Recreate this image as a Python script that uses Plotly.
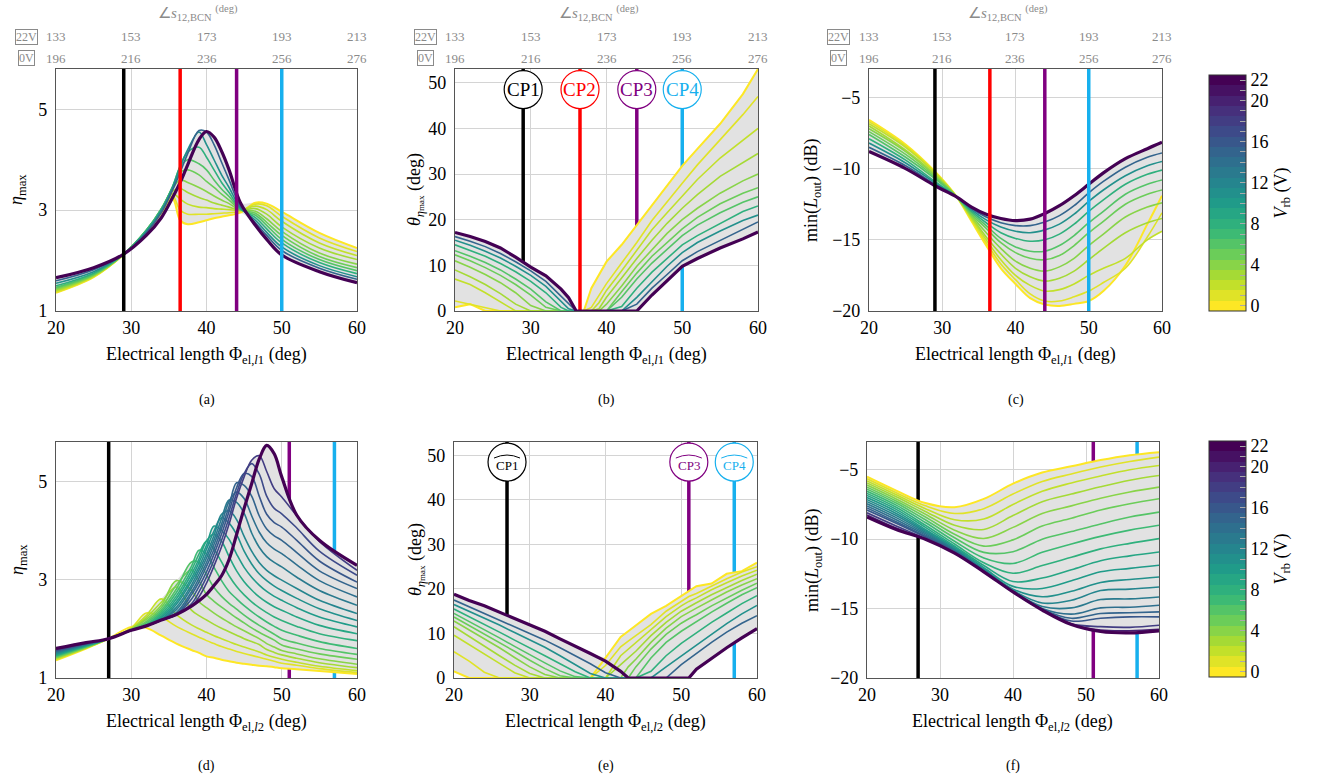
import numpy as np
import plotly.graph_objects as go
from plotly.colors import sample_colorscale

W, H = 1340, 782
FONT = "Liberation Serif, Times New Roman, serif"

# ---------------- data ----------------
V_STD = [0, 1, 2, 3, 4, 5, 6, 8, 11, 15, 22]
V_D = [0, 1, 2, 3, 4, 5, 6, 7, 8, 9, 10, 11, 12, 13, 14, 15, 16, 17, 18, 22]
V_F = [0, 1, 2, 3, 4, 5, 6, 7, 8, 9, 10, 11, 12, 13, 14, 15, 16, 18, 20, 22]

# (a) eta_max vs Phi_el,l1
x_a = [20, 25, 29, 32, 34, 35.5, 36.5, 37.5, 39, 40, 41, 42, 43, 44.5, 46.5, 48, 50, 55, 60]
eta_a = [
    [1.36, 1.67, 2.12, 2.56, 2.94, 3.22, 2.80, 2.72, 2.76, 2.80, 2.84, 2.87, 2.90, 2.95, 3.15, 3.13, 2.97, 2.55, 2.25],
    [1.37, 1.68, 2.12, 2.57, 2.96, 3.28, 3.00, 2.92, 2.92, 2.92, 2.93, 2.94, 2.95, 2.98, 3.12, 3.09, 2.88, 2.45, 2.18],
    [1.39, 1.69, 2.12, 2.58, 2.98, 3.33, 3.22, 3.12, 3.06, 3.05, 3.03, 3.02, 3.01, 3.00, 3.08, 3.01, 2.78, 2.35, 2.10],
    [1.41, 1.70, 2.13, 2.59, 3.00, 3.38, 3.43, 3.35, 3.25, 3.20, 3.14, 3.10, 3.06, 3.00, 3.03, 2.92, 2.67, 2.25, 2.02],
    [1.43, 1.71, 2.13, 2.60, 3.02, 3.43, 3.60, 3.55, 3.45, 3.37, 3.28, 3.20, 3.13, 3.00, 2.98, 2.83, 2.58, 2.15, 1.93],
    [1.45, 1.72, 2.13, 2.60, 3.03, 3.46, 3.75, 3.80, 3.70, 3.57, 3.45, 3.32, 3.20, 3.01, 2.94, 2.76, 2.50, 2.08, 1.86],
    [1.47, 1.73, 2.13, 2.60, 3.03, 3.47, 3.85, 4.00, 3.92, 3.80, 3.60, 3.42, 3.27, 3.02, 2.90, 2.70, 2.42, 2.02, 1.80],
    [1.50, 1.75, 2.13, 2.60, 3.02, 3.47, 3.88, 4.15, 4.25, 4.05, 3.80, 3.55, 3.35, 3.03, 2.85, 2.63, 2.35, 1.96, 1.74],
    [1.55, 1.78, 2.13, 2.57, 3.00, 3.45, 3.85, 4.20, 4.55, 4.30, 4.00, 3.70, 3.45, 3.05, 2.80, 2.56, 2.27, 1.90, 1.68],
    [1.60, 1.82, 2.13, 2.55, 2.95, 3.40, 3.75, 4.12, 4.58, 4.55, 4.30, 3.95, 3.60, 3.08, 2.75, 2.50, 2.20, 1.85, 1.63],
    [1.66, 1.86, 2.13, 2.50, 2.85, 3.25, 3.55, 3.90, 4.40, 4.56, 4.45, 4.17, 3.80, 3.15, 2.70, 2.42, 2.11, 1.78, 1.56],
]

# (b) theta vs Phi_el,l1
x_b = [20, 22, 24, 26, 28, 30, 32, 34, 35, 36, 37, 38, 39, 40, 42, 44, 46, 48, 50, 52, 55, 58, 60]
theta_b = [
    [0.8, 1.5, 0, 0, 0, 0, 0, 0, 0, 0, 0, 5.0, 8.0, 10.8, 14.5, 18.8, 23.0, 27.5, 31.8, 35.5, 41.0, 47.5, 53.0],
    [2.2, 1.5, 0.8, 0, 0, 0, 0, 0, 0, 0, 0, 0.8, 3.5, 6.0, 10.5, 15.0, 19.8, 24.0, 28.0, 32.0, 37.5, 43.0, 47.0],
    [7.0, 5.8, 4.0, 2.0, 0, 0, 0, 0, 0, 0, 0, 0, 1.8, 4.5, 8.8, 13.2, 17.8, 21.5, 25.2, 28.8, 33.5, 37.5, 40.0],
    [9.0, 7.5, 5.8, 3.8, 1.5, 0, 0, 0, 0, 0, 0, 0, 0.5, 3.0, 7.2, 11.5, 15.5, 19.2, 22.5, 25.5, 29.5, 32.5, 34.5],
    [11.0, 9.6, 8.0, 6.2, 4.0, 1.2, 0, 0, 0, 0, 0, 0, 0, 1.5, 5.5, 9.8, 13.5, 17.0, 20.0, 22.5, 25.8, 28.5, 30.0],
    [12.3, 11.0, 9.5, 7.8, 5.8, 3.5, 0.8, 0, 0, 0, 0, 0, 0, 0, 4.2, 8.3, 12.0, 15.0, 18.0, 20.5, 23.5, 25.8, 27.0],
    [13.2, 12.0, 10.6, 9.0, 7.0, 4.8, 2.0, 0, 0, 0, 0, 0, 0, 0, 3.0, 7.0, 10.5, 13.5, 16.5, 18.8, 21.5, 23.8, 25.0],
    [14.5, 13.3, 12.0, 10.4, 8.6, 6.5, 4.0, 0.8, 0, 0, 0, 0, 0, 0, 1.0, 5.0, 8.5, 11.5, 14.5, 16.5, 19.2, 21.8, 23.0],
    [15.5, 14.4, 13.1, 11.6, 9.8, 7.8, 5.4, 2.2, 0.5, 0, 0, 0, 0, 0, 0, 3.0, 6.5, 9.8, 12.8, 15.0, 17.5, 19.8, 21.0],
    [16.3, 15.3, 14.1, 12.6, 10.8, 8.8, 6.5, 3.3, 1.5, 0, 0, 0, 0, 0, 0, 1.5, 5.0, 8.0, 11.0, 13.0, 15.5, 18.0, 19.5],
    [17.2, 16.3, 15.2, 13.8, 11.8, 9.6, 7.7, 4.8, 2.9, 0, 0, 0, 0, 0, 0, 0, 3.5, 6.6, 9.8, 11.5, 13.8, 15.8, 17.3],
]

# (c) min(L_out) vs Phi_el,l1
x_c = [20, 25, 29, 32, 34, 36, 38, 40, 42, 44, 46, 48, 50, 52, 55, 58, 60]
lout_c = [
    [-6.57, -8.3, -10.2, -12.0, -13.7, -15.4, -17.0, -18.1, -19.1, -19.55, -19.65, -19.5, -19.3, -18.6, -16.8, -13.9, -11.9],
    [-6.7, -8.4, -10.25, -12.0, -13.6, -15.2, -16.7, -17.8, -18.8, -19.3, -19.3, -19.0, -18.6, -18.0, -17.0, -14.8, -13.1],
    [-6.85, -8.5, -10.3, -12.0, -13.5, -15.0, -16.4, -17.5, -18.2, -18.6, -18.5, -18.1, -17.5, -17.0, -16.3, -15.0, -14.4],
    [-7.0, -8.7, -10.4, -12.0, -13.4, -14.8, -16.0, -17.0, -17.6, -17.9, -17.7, -17.2, -16.4, -15.6, -14.5, -13.8, -13.5],
    [-7.2, -8.8, -10.5, -12.0, -13.3, -14.5, -15.6, -16.5, -17.0, -17.2, -16.9, -16.3, -15.4, -14.6, -13.4, -12.7, -12.4],
    [-7.4, -9.0, -10.6, -12.0, -13.2, -14.2, -15.2, -15.9, -16.3, -16.4, -16.1, -15.4, -14.5, -13.7, -12.5, -11.8, -11.5],
    [-7.6, -9.2, -10.7, -12.0, -13.1, -14.0, -14.9, -15.5, -15.8, -15.8, -15.4, -14.7, -13.8, -13.0, -11.8, -11.1, -10.8],
    [-7.9, -9.4, -10.9, -12.0, -13.0, -13.8, -14.5, -14.9, -15.1, -15.0, -14.6, -13.9, -13.0, -12.2, -11.1, -10.4, -10.1],
    [-8.2, -9.6, -11.0, -12.0, -12.9, -13.6, -14.1, -14.4, -14.5, -14.3, -13.9, -13.2, -12.3, -11.5, -10.5, -9.8, -9.5],
    [-8.5, -9.8, -11.1, -12.0, -12.8, -13.4, -13.8, -14.0, -14.0, -13.75, -13.3, -12.6, -11.7, -10.9, -9.9, -9.2, -8.9],
    [-8.8, -10.0, -11.2, -12.0, -12.7, -13.2, -13.5, -13.65, -13.55, -13.15, -12.6, -11.9, -11.1, -10.3, -9.3, -8.6, -8.15],
]

# (d) eta_max vs Phi_el,l2
x_d = [20, 24, 27, 30, 32, 34, 36, 38, 39, 40, 41, 42, 43, 44, 45, 46, 47, 48, 49, 50, 52, 55, 60]
eta_d = [
    [1.36, 1.60, 1.80, 2.04, 2.02, 1.86, 1.70, 1.57, 1.51, 1.44, 1.41, 1.37, 1.34, 1.31, 1.29, 1.27, 1.25, 1.24, 1.22, 1.20, 1.18, 1.14, 1.08],
    [1.37, 1.61, 1.80, 2.02, 2.32, 2.24, 2.05, 1.90, 1.83, 1.76, 1.70, 1.64, 1.59, 1.54, 1.50, 1.46, 1.42, 1.38, 1.34, 1.30, 1.26, 1.19, 1.11],
    [1.385, 1.61, 1.80, 2.01, 2.27, 2.61, 2.29, 2.08, 2.00, 1.93, 1.86, 1.80, 1.74, 1.68, 1.63, 1.58, 1.53, 1.47, 1.42, 1.38, 1.32, 1.24, 1.15],
    [1.40, 1.62, 1.80, 2.00, 2.23, 2.54, 2.85, 2.38, 2.27, 2.18, 2.09, 2.01, 1.94, 1.87, 1.80, 1.74, 1.68, 1.58, 1.52, 1.47, 1.40, 1.31, 1.21],
    [1.41, 1.62, 1.80, 1.99, 2.19, 2.48, 2.98, 2.78, 2.55, 2.43, 2.32, 2.22, 2.13, 2.04, 1.96, 1.88, 1.80, 1.70, 1.63, 1.56, 1.49, 1.39, 1.28],
    [1.42, 1.63, 1.80, 1.98, 2.15, 2.43, 2.89, 3.20, 2.98, 2.70, 2.56, 2.44, 2.33, 2.22, 2.12, 2.02, 1.93, 1.85, 1.77, 1.67, 1.59, 1.49, 1.38],
    [1.435, 1.64, 1.80, 1.97, 2.12, 2.38, 2.81, 3.36, 3.35, 3.10, 2.84, 2.66, 2.52, 2.40, 2.28, 2.17, 2.07, 1.98, 1.89, 1.80, 1.71, 1.60, 1.48],
    [1.45, 1.64, 1.80, 1.97, 2.09, 2.34, 2.74, 3.27, 3.60, 3.52, 3.25, 2.98, 2.76, 2.61, 2.47, 2.35, 2.24, 2.14, 2.05, 1.97, 1.87, 1.74, 1.60],
    [1.46, 1.65, 1.80, 1.97, 2.07, 2.30, 2.67, 3.19, 3.52, 3.78, 3.62, 3.36, 3.08, 2.86, 2.69, 2.55, 2.43, 2.33, 2.24, 2.17, 2.05, 1.90, 1.76],
    [1.47, 1.66, 1.80, 1.97, 2.06, 2.26, 2.61, 3.11, 3.42, 3.79, 3.93, 3.78, 3.47, 3.18, 2.96, 2.79, 2.65, 2.54, 2.45, 2.38, 2.24, 2.07, 1.90],
    [1.485, 1.66, 1.80, 1.97, 2.06, 2.23, 2.55, 3.03, 3.35, 3.70, 4.09, 4.00, 3.82, 3.52, 3.25, 3.05, 2.89, 2.76, 2.66, 2.58, 2.43, 2.24, 2.04],
    [1.50, 1.67, 1.80, 1.97, 2.06, 2.20, 2.50, 2.97, 3.26, 3.62, 3.99, 4.26, 4.15, 3.92, 3.58, 3.32, 3.12, 2.98, 2.87, 2.78, 2.62, 2.41, 2.17],
    [1.51, 1.68, 1.80, 1.97, 2.06, 2.18, 2.44, 2.89, 3.19, 3.52, 3.90, 4.33, 4.40, 4.22, 3.88, 3.58, 3.35, 3.19, 3.08, 2.99, 2.82, 2.58, 2.31],
    [1.525, 1.68, 1.80, 1.97, 2.06, 2.18, 2.39, 2.83, 3.11, 3.44, 3.81, 4.24, 4.62, 4.57, 4.35, 3.95, 3.66, 3.47, 3.35, 3.26, 3.05, 2.78, 2.48],
    [1.54, 1.69, 1.80, 1.97, 2.06, 2.18, 2.33, 2.75, 3.03, 3.35, 3.72, 4.13, 4.59, 4.78, 4.65, 4.30, 3.97, 3.75, 3.62, 3.53, 3.30, 2.98, 2.65],
    [1.55, 1.69, 1.80, 1.97, 2.06, 2.18, 2.29, 2.69, 2.95, 3.27, 3.62, 4.04, 4.49, 4.97, 4.92, 4.70, 4.30, 4.03, 3.89, 3.80, 3.55, 3.18, 2.82],
    [1.56, 1.70, 1.80, 1.97, 2.06, 2.18, 2.29, 2.60, 2.86, 3.16, 3.52, 3.93, 4.39, 4.87, 5.16, 5.10, 4.70, 4.33, 4.16, 4.07, 3.80, 3.38, 2.95],
    [1.57, 1.70, 1.80, 1.97, 2.06, 2.18, 2.29, 2.51, 2.75, 3.05, 3.40, 3.80, 4.26, 4.76, 5.16, 5.36, 5.15, 4.70, 4.45, 4.34, 4.05, 3.58, 3.09],
    [1.585, 1.71, 1.80, 1.97, 2.06, 2.18, 2.29, 2.46, 2.65, 2.93, 3.28, 3.67, 4.13, 4.66, 5.09, 5.43, 5.52, 5.20, 4.85, 4.68, 4.30, 3.78, 3.19],
    [1.60, 1.72, 1.80, 1.97, 2.06, 2.18, 2.29, 2.46, 2.57, 2.70, 2.88, 3.08, 3.41, 3.92, 4.45, 4.95, 5.45, 5.73, 5.56, 5.09, 4.31, 3.80, 3.29],
]

# (e) theta vs Phi_el,l2
x_e = [20, 22, 24, 26, 28, 30, 32, 34, 36, 38, 40, 42, 43, 44, 46, 48, 50, 51, 52, 54, 56, 58, 60]
theta_e = [
    [1.5, 0, 0, 0, 0, 0, 0, 0, 0, 0, 4.5, 9.2, 10.5, 11.8, 14.4, 16.2, 18.5, 19.5, 20.6, 21.2, 23.4, 24.0, 25.9],
    [5.9, 3.8, 1.3, 0, 0, 0, 0, 0, 0, 0, 2.8, 7.0, 8.3, 9.5, 12.0, 15.0, 17.3, 18.3, 19.0, 20.7, 22.3, 23.8, 25.0],
    [9.6, 7.5, 5.5, 3.3, 1.2, 0, 0, 0, 0, 0, 0, 5.0, 6.5, 7.8, 10.8, 13.8, 16.2, 17.2, 18.0, 19.8, 21.4, 22.9, 24.2],
    [11.5, 9.3, 7.2, 5.0, 2.9, 1.0, 0, 0, 0, 0, 0, 3.0, 4.5, 6.0, 9.5, 12.5, 15.0, 16.0, 16.9, 18.7, 20.3, 21.9, 23.3],
    [12.8, 10.8, 8.8, 6.8, 4.6, 2.5, 0.8, 0, 0, 0, 0, 0, 2.5, 4.2, 8.0, 11.2, 13.8, 14.8, 15.7, 17.5, 19.3, 20.9, 22.3],
    [13.7, 11.8, 9.9, 8.0, 6.0, 4.0, 2.1, 0.5, 0, 0, 0, 0, 0, 2.5, 6.5, 9.8, 12.3, 13.3, 14.2, 16.2, 18.0, 19.7, 21.3],
    [14.5, 12.7, 10.9, 9.0, 7.1, 5.2, 3.4, 1.6, 0.3, 0, 0, 0, 0, 0, 4.5, 8.0, 10.5, 11.6, 12.6, 14.8, 16.8, 18.7, 20.3],
    [15.5, 13.8, 12.1, 10.3, 8.5, 6.8, 5.0, 3.2, 1.4, 0, 0, 0, 0, 0, 1.5, 5.0, 7.8, 9.0, 10.0, 12.5, 14.6, 16.7, 18.5],
    [16.5, 15.0, 13.5, 11.9, 10.2, 8.6, 6.9, 5.0, 3.0, 1.0, 0, 0, 0, 0, 0, 2.5, 5.0, 6.2, 7.3, 9.8, 12.2, 14.4, 16.3],
    [17.5, 16.0, 14.6, 13.1, 11.5, 10.0, 8.5, 6.8, 5.0, 3.2, 1.2, 0, 0, 0, 0, 0, 3.0, 4.3, 5.5, 8.0, 10.3, 12.3, 14.0],
    [18.8, 17.4, 16.2, 14.8, 13.3, 12.0, 10.5, 8.8, 7.2, 5.5, 3.8, 1.5, 0, 0, 0, 0, 0, 0, 2.0, 4.5, 6.8, 9.0, 11.1],
]

# (f) min(L_out) vs Phi_el,l2
x_f = [20, 24, 28, 32, 36, 40, 44, 48, 52, 56, 60]
lout_f = [
    [-5.50, -6.50, -7.40, -7.70, -7.10, -6.00, -5.20, -4.75, -4.30, -3.95, -3.73],
    [-5.65, -6.65, -7.60, -8.15, -7.80, -6.75, -5.85, -5.30, -4.80, -4.40, -4.09],
    [-5.80, -6.80, -7.80, -8.60, -8.55, -7.50, -6.55, -5.95, -5.45, -5.00, -4.69],
    [-5.95, -6.95, -8.00, -9.00, -9.30, -8.30, -7.30, -6.75, -6.22, -5.75, -5.41],
    [-6.10, -7.10, -8.20, -9.35, -9.95, -9.15, -8.15, -7.60, -7.05, -6.60, -6.25],
    [-6.25, -7.25, -8.40, -9.65, -10.50, -10.05, -9.05, -8.50, -7.90, -7.45, -7.09],
    [-6.40, -7.40, -8.60, -9.90, -10.95, -10.90, -10.00, -9.45, -8.90, -8.40, -8.05],
    [-6.55, -7.55, -8.80, -10.15, -11.35, -11.75, -10.95, -10.35, -9.80, -9.35, -9.00],
    [-6.70, -7.70, -9.00, -10.35, -11.70, -12.45, -11.90, -11.30, -10.70, -10.30, -9.96],
    [-6.85, -7.85, -9.15, -10.50, -11.90, -13.05, -12.80, -12.20, -11.55, -11.20, -10.92],
    [-7.00, -8.00, -9.30, -10.60, -12.05, -13.40, -13.55, -13.00, -12.35, -12.10, -11.88],
    [-7.15, -8.15, -9.40, -10.70, -12.15, -13.60, -14.15, -13.75, -13.12, -12.90, -12.72],
    [-7.30, -8.30, -9.50, -10.75, -12.20, -13.70, -14.60, -14.40, -13.70, -13.60, -13.44],
    [-7.45, -8.45, -9.60, -10.80, -12.25, -13.75, -14.85, -14.95, -14.35, -14.30, -14.16],
    [-7.60, -8.60, -9.70, -10.85, -12.30, -13.75, -15.00, -15.40, -14.95, -14.90, -14.76],
    [-7.75, -8.75, -9.80, -10.90, -12.30, -13.78, -15.05, -15.70, -15.35, -15.30, -15.24],
    [-7.90, -8.85, -9.85, -10.93, -12.32, -13.80, -15.08, -15.90, -15.70, -15.60, -15.60],
    [-8.10, -9.05, -9.95, -10.97, -12.34, -13.80, -15.10, -16.10, -16.30, -16.35, -16.20],
    [-8.25, -9.20, -10.00, -11.00, -12.35, -13.80, -15.10, -16.12, -16.55, -16.60, -16.50],
    [-8.40, -9.30, -10.00, -11.00, -12.35, -13.80, -15.10, -16.15, -16.65, -16.75, -16.60],
]

# control points
CP_TOP_X = [29, 36.5, 44, 50]
CP_TOP_LBL = ["CP1", "CP2", "CP3", "CP4"]
CP_TOP_COL = ["#000000", "#ff0000", "#800080", "#17b0ee"]
CP_BOT_X = [27, 51, 57]
CP_BOT_LBL = ["CP1", "CP3", "CP4"]
CP_BOT_COL = ["#000000", "#800080", "#17b0ee"]
CP_LABEL_Y = 48.5

# top secondary axis labels (angle of s12,BCN)
TOP_TICK_X = [20, 30, 40, 50, 60]
TOP_22V = ["133", "153", "173", "193", "213"]
TOP_0V = ["196", "216", "236", "256", "276"]

X_TICKS = [20, 30, 40, 50, 60]
V_MIN, V_MAX = 0, 22

# ---------------- layout geometry (pixels) ----------------
BOX = {  # (left, right, top, bottom)
    1: (56, 357, 69, 311), 2: (455, 758, 69, 311), 3: (869, 1162, 69, 311),
    4: (56, 357, 442, 678), 5: (454, 757, 442, 678), 6: (867, 1159, 442, 678),
}
YTITLE_X = {1: 18, 2: 416, 3: 813, 4: 18, 5: 416, 6: 813}
CP_LAYER = {1: "above", 2: "between", 3: "above", 4: "between", 5: "between", 6: "between"}


def fx(px):
    return px / W


def fy(py):
    return 1 - py / H


def vcolor(v):
    return sample_colorscale("Viridis", [1 - (v - V_MIN) / (V_MAX - V_MIN)])[0]


THETA_T = "<i>θ</i><sub><i>η</i><span style='font-size:9px'>max</span></sub> (deg)"
panels = [
    dict(i=1, x=x_a, V=V_STD, Y=eta_a, shape="spline", yr=[1, 5.8], yt=[1, 3, 5],
         ytitle="<i>η</i><sub>max</sub>", xsub="<i>l</i>1", cap="(a)"),
    dict(i=2, x=x_b, V=V_STD, Y=theta_b, shape="linear", yr=[0, 53], yt=[0, 10, 20, 30, 40, 50],
         ytitle=THETA_T, xsub="<i>l</i>1", cap="(b)"),
    dict(i=3, x=x_c, V=V_STD, Y=lout_c, shape="spline", yr=[-20, -3], yt=[-20, -15, -10, -5],
         ytitle="min(<i>L</i><sub>out</sub>) (dB)", xsub="<i>l</i>1", cap="(c)"),
    dict(i=4, x=x_d, V=V_D, Y=eta_d, shape="spline", yr=[1, 5.8], yt=[1, 3, 5],
         ytitle="<i>η</i><sub>max</sub>", xsub="<i>l</i>2", cap="(d)"),
    dict(i=5, x=x_e, V=V_STD, Y=theta_e, shape="linear", yr=[0, 53], yt=[0, 10, 20, 30, 40, 50],
         ytitle=THETA_T, xsub="<i>l</i>2", cap="(e)"),
    dict(i=6, x=x_f, V=V_F, Y=lout_f, shape="spline", yr=[-20, -3], yt=[-20, -15, -10, -5],
         ytitle="min(<i>L</i><sub>out</sub>) (dB)", xsub="<i>l</i>2", cap="(f)"),
]

fig = go.Figure()
shapes = []
annots = []
GRAY = "#8a8a8a"


def ann(**kw):
    base = dict(showarrow=False, xanchor="center", yanchor="middle")
    base.update(kw)
    annots.append(base)


for p in panels:
    i = p["i"]
    xa = "x" if i == 1 else f"x{i}"
    ya = "y" if i == 1 else f"y{i}"
    l, r, t, b = BOX[i]
    Y = np.array(p["Y"], dtype=float)
    lo = Y.min(axis=0)
    hi = Y.max(axis=0)
    fig.add_trace(go.Scatter(x=p["x"], y=lo, mode="lines", line=dict(width=0, shape=p["shape"]),
                             hoverinfo="skip", showlegend=False, xaxis=xa, yaxis=ya))
    fig.add_trace(go.Scatter(x=p["x"], y=hi, mode="lines", line=dict(width=0, shape=p["shape"]),
                             fill="tonexty", fillcolor="#e2e2e2",
                             hoverinfo="skip", showlegend=False, xaxis=xa, yaxis=ya))
    for v, row in zip(p["V"], p["Y"]):
        wdt = 3.2 if v == V_MAX else (2.0 if v == V_MIN else 1.6)
        fig.add_trace(go.Scatter(x=p["x"], y=row, mode="lines",
                                 line=dict(color=vcolor(v), width=wdt, shape=p["shape"]),
                                 showlegend=False, name=f"{v} V", xaxis=xa, yaxis=ya))

    common = dict(showgrid=True, gridcolor="#d4d4d4", gridwidth=1, showline=True, mirror=True,
                  linecolor="#555555", linewidth=1.2, ticks="", zeroline=False, automargin=False,
                  tickfont=dict(size=18, family=FONT, color="black"))
    ax = dict(domain=[fx(l), fx(r)], range=[20, 60], tickvals=X_TICKS, anchor=ya, **common)
    ay = dict(domain=[fy(b), fy(t)], range=p["yr"], tickvals=p["yt"], anchor=xa,
              ticklabelstandoff=4, **common)
    fig.update_layout(**{("xaxis" if i == 1 else f"xaxis{i}"): ax,
                         ("yaxis" if i == 1 else f"yaxis{i}"): ay})

    top_row = i <= 3
    cpx = CP_TOP_X if top_row else CP_BOT_X
    cpc = CP_TOP_COL if top_row else CP_BOT_COL
    cpl = CP_TOP_LBL if top_row else CP_BOT_LBL
    for xv, col in zip(cpx, cpc):
        shapes.append(dict(type="line", xref=xa, yref=ya, x0=xv, x1=xv, y0=p["yr"][0], y1=p["yr"][1],
                           line=dict(color=col, width=3.5), layer=CP_LAYER[i]))
    if i in (2, 5):
        for xv, col, lbl in zip(cpx, cpc, cpl):
            shapes.append(dict(type="circle", xref=xa, yref=ya, xsizemode="pixel", ysizemode="pixel",
                               xanchor=xv, yanchor=CP_LABEL_Y, x0=-19, x1=19, y0=-19, y1=19,
                               fillcolor="white", line=dict(color=col, width=1.2), layer="above"))
            if i == 2:
                ann(x=xv, y=CP_LABEL_Y, xref=xa, yref=ya, text=lbl,
                    font=dict(size=19, family=FONT, color=col))
            else:
                ann(x=xv, y=CP_LABEL_Y, xref=xa, yref=ya, text=lbl, yshift=-3,
                    font=dict(size=13, family=FONT, color=col))
                shapes.append(dict(type="path", xref=xa, yref=ya, xsizemode="pixel", ysizemode="pixel",
                                   xanchor=xv, yanchor=CP_LABEL_Y, path="M -13,4 Q 0,10 13,4",
                                   line=dict(color=col, width=1), layer="above"))

    cx = (l + r) / 2
    ann(x=fx(cx), y=fy(b + 44), xref="paper", yref="paper",
        text=f"Electrical length Φ<sub>el,{p['xsub']}</sub> (deg)",
        font=dict(size=18, family=FONT, color="black"))
    ann(x=fx(YTITLE_X[i]), y=fy((t + b) / 2), xref="paper", yref="paper",
        text=p["ytitle"], textangle=-90, font=dict(size=18, family=FONT, color="black"))
    ann(x=fx(cx), y=fy(400 if top_row else 766), xref="paper", yref="paper",
        text=p["cap"], font=dict(size=14, family=FONT, color="black"))

    if top_row:
        ann(x=fx(cx - 8), y=fy(13), xref="paper", yref="paper",
            text="∠<i>s</i><sub>12,BCN</sub> <sup>(deg)</sup>",
            font=dict(size=15, family=FONT, color=GRAY))
        for xv, s22, s0 in zip(TOP_TICK_X, TOP_22V, TOP_0V):
            ann(x=xv, y=fy(37), xref=xa, yref="paper", text=s22,
                font=dict(size=13, family=FONT, color=GRAY))
            ann(x=xv, y=fy(58), xref=xa, yref="paper", text=s0,
                font=dict(size=13, family=FONT, color=GRAY))
        ann(x=TOP_TICK_X[0], xshift=-30, y=fy(37), xref=xa, yref="paper", text="22V",
            bordercolor=GRAY, borderwidth=1, borderpad=0, font=dict(size=12, family=FONT, color=GRAY))
        ann(x=TOP_TICK_X[0], xshift=-30, y=fy(58), xref=xa, yref="paper", text="0V",
            bordercolor=GRAY, borderwidth=1, borderpad=0, font=dict(size=12, family=FONT, color=GRAY))

# discrete colour scale for the colour bars
nb = V_MAX - V_MIN + 1
cs = []
for k in range(nb):
    c = vcolor(V_MIN + k)
    cs.append([k / nb, c])
    cs.append([(k + 1) / nb, c])
tv = list(range(V_MIN, V_MAX + 1))
tt = [str(v) if v in (0, 4, 8, 12, 16, 20, 22) else "" for v in tv]

for (top, bot) in [(75, 311), (441, 677)]:
    fig.add_trace(go.Scatter(
        x=[None], y=[None], mode="markers", showlegend=False, hoverinfo="skip",
        marker=dict(color=[V_MIN], cmin=V_MIN - 0.5, cmax=V_MAX + 0.5, colorscale=cs, showscale=True,
                    colorbar=dict(x=fx(1209), xanchor="left", y=fy((top + bot) / 2), yanchor="middle",
                                  len=(bot - top) / H, lenmode="fraction", thickness=37,
                                  thicknessmode="pixels", outlinewidth=1, outlinecolor="#333333",
                                  xpad=0, ypad=0, tickvals=tv, ticktext=tt, ticks="inside",
                                  ticklen=6, tickcolor="#aaaaaa",
                                  tickfont=dict(size=18, family=FONT, color="black"),
                                  title=dict(text="<i>V</i><sub>rb</sub> (V)", side="right",
                                             font=dict(size=18, family=FONT, color="black")))),
        xaxis="x", yaxis="y"))

fig.update_layout(width=W, height=H, margin=dict(l=0, r=0, t=0, b=0), template="none",
                  plot_bgcolor="white", paper_bgcolor="white", shapes=shapes, annotations=annots,
                  font=dict(family=FONT, color="black"), showlegend=False)

fig.write_html("out.html", config={"displayModeBar": False},
               post_script="document.body.style.margin='0px';")
